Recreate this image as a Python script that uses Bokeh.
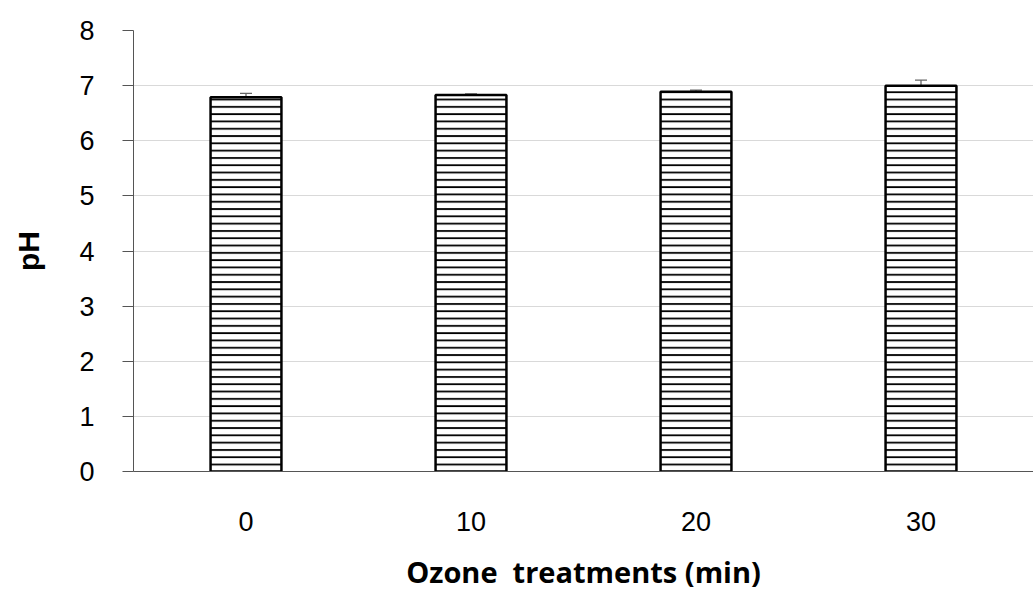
from bokeh.plotting import figure
from bokeh.models import ColumnDataSource, Whisker, FactorRange, SingleIntervalTicker
from bokeh.embed import file_html
from bokeh.resources import INLINE

categories = ["0", "10", "20", "30"]
ph_values = [6.79, 6.83, 6.89, 7.00]
ph_errors = [0.07, 0.02, 0.03, 0.10]

upper = [v + e for v, e in zip(ph_values, ph_errors)]
lower = [v - e for v, e in zip(ph_values, ph_errors)]
src = ColumnDataSource(dict(x=categories, top=ph_values, upper=upper, lower=lower))

p = figure(width=1033, height=603, x_range=FactorRange(*categories, range_padding=0),
           y_range=(0, 8), output_backend="svg", toolbar_location=None,
           min_border_left=133, min_border_right=0, min_border_top=30, min_border_bottom=132)
p.outline_line_color = None
p.background_fill_color = "white"
p.border_fill_color = "white"

p.vbar(x="x", top="top", width=0.315, source=src, fill_color="white",
       line_color="black", line_width=2.5,
       hatch_pattern="horizontal_line", hatch_color="black", hatch_weight=1.8, hatch_scale=7.3)

w = Whisker(base="x", upper="upper", lower="lower", source=src, line_color="#666666",
            line_width=1.3)
w.upper_head.size = 12
w.lower_head.size = 12
w.upper_head.line_color = "#666666"
w.lower_head.line_color = "#666666"
w.upper_head.line_width = 1.3
w.lower_head.line_width = 1.3
p.add_layout(w)

p.yaxis.ticker = SingleIntervalTicker(interval=1)
p.yaxis.minor_tick_line_color = None
p.yaxis.major_tick_out = 11
p.yaxis.major_tick_in = 0
p.yaxis.major_tick_line_color = "#555555"
p.yaxis.axis_line_color = "#555555"
p.yaxis.major_label_text_font = "Liberation Sans"
p.yaxis.major_label_text_font_size = "27px"
p.yaxis.major_label_text_color = "black"
p.yaxis.major_label_standoff = 28
p.yaxis.axis_label = "pH"
p.yaxis.axis_label_text_font = "Liberation Sans"
p.yaxis.axis_label_text_font_style = "bold"
p.yaxis.axis_label_text_font_size = "30px"
p.yaxis.axis_label_text_color = "black"
p.yaxis.axis_label_standoff = 31

p.xaxis.major_tick_line_color = None
p.xaxis.minor_tick_line_color = None
p.xaxis.axis_line_color = "#555555"
p.xaxis.major_label_text_font = "Liberation Sans"
p.xaxis.major_label_text_font_size = "27px"
p.xaxis.major_label_text_color = "black"
p.xaxis.major_label_standoff = 34
p.xaxis.axis_label = "Ozone\u00a0 treatments (min)"
p.xaxis.axis_label_text_font = "Open Sans"
p.xaxis.axis_label_text_font_style = "bold"
p.xaxis.axis_label_text_font_size = "29px"
p.xaxis.axis_label_text_color = "black"
p.xaxis.axis_label_standoff = 18

p.xgrid.grid_line_color = None
p.ygrid.grid_line_color = "#d9d9d9"
p.ygrid.grid_line_width = 1.2

open("out.html", "w").write(file_html(p, INLINE))
